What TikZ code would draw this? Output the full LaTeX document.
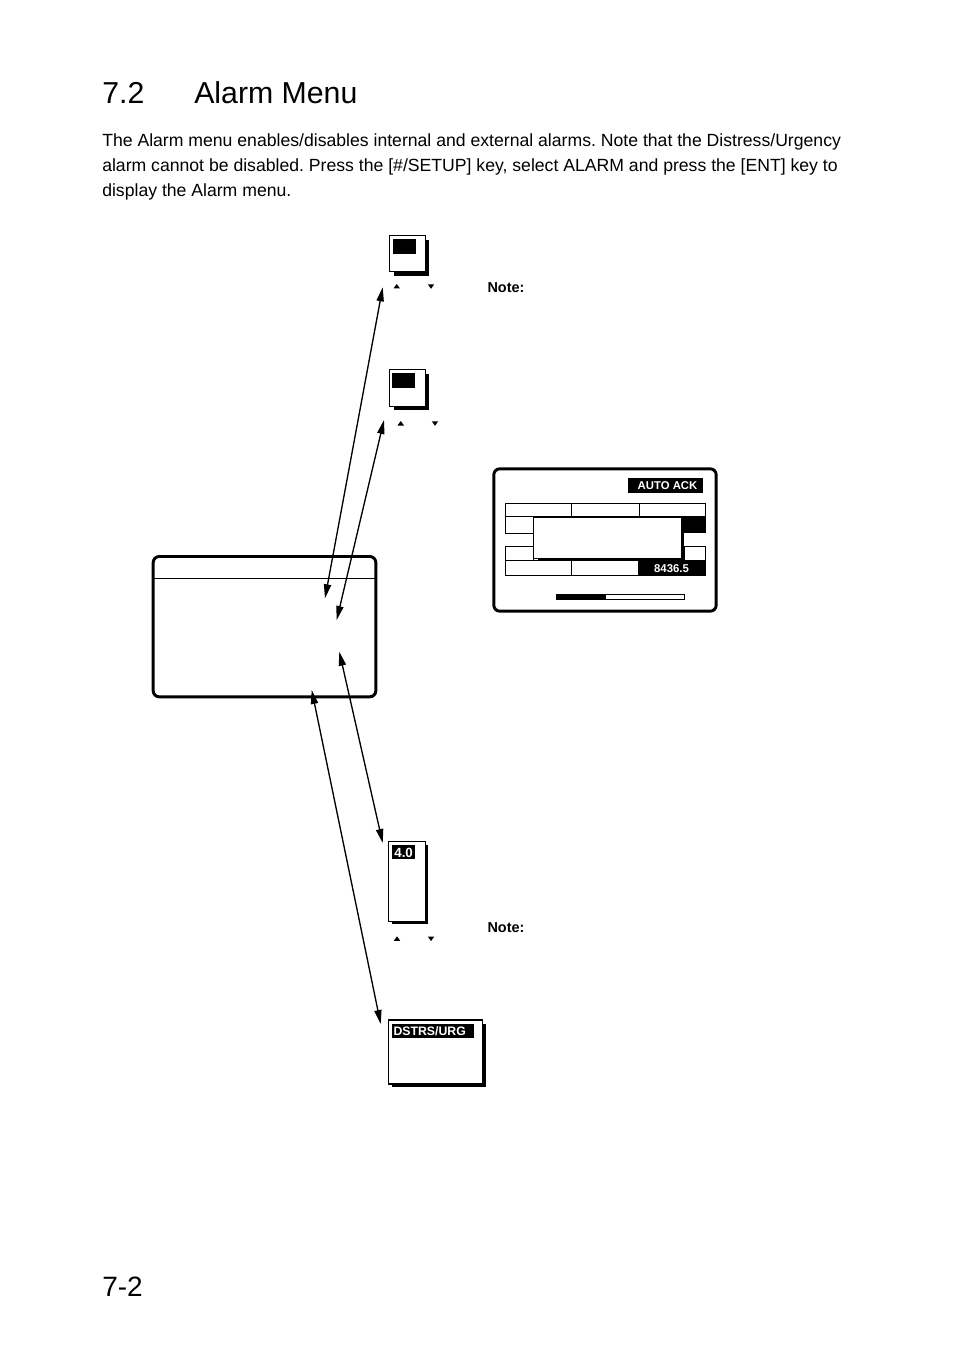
\documentclass[tikz,border=0pt]{standalone}
\usepackage{fontspec}
\setmainfont{Liberation Sans}
\usetikzlibrary{arrows.meta}
\begin{document}
\frenchspacing
\begin{tikzpicture}[x=0.75pt,y=-0.75pt,
  txt/.style={inner sep=0pt,anchor=base west},
  thin/.style={line width=0.75pt},
  shadowbox/.style={fill=white,draw=black,line width=0.8pt},
  screen/.style={draw=black,line width=2.2pt,rounded corners=4.5pt},
  blk/.style={fill=black},
  wlab/.style={inner sep=0pt,text=white,font=\bfseries\fontsize{8.5}{10}\selectfont,anchor=center},
  dblarrow/.style={{Triangle[length=10.5pt,width=5.4pt]}-{Triangle[length=10.5pt,width=5.4pt]},line width=1pt},
  tri/.style={fill=black}
]
\useasboundingbox (0,0) rectangle (954,1351);

% title
\node[txt,font=\fontsize{22.7}{26}\selectfont] (num) at (102,103.3) {7.2};
\node[txt,font=\fontsize{22.7}{26}\selectfont] (title) at (194,103.3) {Alarm Menu};

% paragraph
\node[txt,font=\fontsize{13.22}{18}\selectfont] (p1) at (102,146.5) {The Alarm menu enables/disables internal and external alarms. Note that the Distress/Urgency};
\node[txt,font=\fontsize{13.22}{18}\selectfont] (p2) at (102,171.5) {alarm cannot be disabled. Press the [\#/SETUP] key, select ALARM and press the [ENT] key to};
\node[txt,font=\fontsize{13.22}{18}\selectfont] (p3) at (102,196.5) {display the Alarm menu.};

% page number
\node[txt,font=\fontsize{21}{24}\selectfont] (page) at (102,1296) {7-2};

% ---- box 1
\fill (394,240) rectangle (429,276);
\draw[shadowbox] (389.3,235.7) rectangle (425.7,271.7);
\fill (392.7,239.5) rectangle (415.5,254);
\node[inner sep=0pt,minimum width=36pt,minimum height=36pt] (b1) at (407.5,253.7) {};
\fill[tri] (393.5,288.5) -- (400,288.5) -- (396.7,284) -- cycle;
\fill[tri] (427.8,284.3) -- (434.2,284.3) -- (431,288.8) -- cycle;
\node[txt,font=\bfseries\fontsize{10.8}{12}\selectfont] (note1) at (487.3,292.3) {Note:};

% ---- box 2
\fill (394,374) rectangle (429,410);
\draw[shadowbox] (389.3,369.3) rectangle (425.3,406.3);
\fill (392.3,372.7) rectangle (415,388.3);
\node[inner sep=0pt,minimum width=36pt,minimum height=37pt] (b2) at (407.3,387.8) {};
\fill[tri] (397.5,425.5) -- (404,425.5) -- (400.7,421) -- cycle;
\fill[tri] (431.8,421.3) -- (438.2,421.3) -- (435,425.8) -- cycle;

% ---- screen
\draw[screen] (493.8,468.8) rectangle (716.2,611.2);
\node[inner sep=0pt,minimum width=56pt,minimum height=11pt] (scr) at (605,540) {};
\fill (628.3,478) rectangle (702.7,492.7);
\node[wlab] (autoack) at (667.5,485.6) {AUTO ACK};
% row1
\draw[thin] (505.7,503.3) rectangle (705.7,516.7);
\draw[thin] (571.7,503.3) -- (571.7,516.7);
\draw[thin] (639.3,503.3) -- (639.3,516.7);
% row2
\draw[thin] (505.7,516.7) rectangle (533.3,533.3);
\fill (681.7,517) rectangle (705.7,533.3);
% row3
\draw[thin] (505.7,546) rectangle (533.3,560);
\draw[thin] (684,546) rectangle (705.7,560);
% row4
\draw[thin] (505.7,560) rectangle (705.7,575.7);
\draw[thin] (571.7,560) -- (571.7,575.7);
\fill (637.7,560) rectangle (705.7,575.7);
\node[wlab] (freq) at (671.5,568.3) {8436.5};
% popup
\fill (538,521) rectangle (684,560.5);
\draw[fill=white,thin] (533.3,517.7) rectangle (681.7,558.3);
% progress
\draw[thin] (556.7,594.3) rectangle (684.3,599.3);
\fill (556.7,594.3) rectangle (606,599.3);

% ---- menu box
\draw[screen] (153.2,556.5) rectangle (375.8,696.8);
\draw[thin] (152.5,578.3) -- (376.5,578.3);
\node[inner sep=0pt,minimum width=168pt,minimum height=107pt] (menu) at (264.5,626.6) {};

% ---- box 4.0
\fill (392,845) rectangle (427.7,923.5);
\draw[shadowbox] (388.3,841.7) rectangle (425.3,921.3);
\fill (392.3,845) rectangle (415,859.3);
\node[inner sep=0pt,text=white,font=\bfseries\fontsize{10}{11}\selectfont] (v40) at (403.6,852.6) {4.0};
\fill[tri] (393.8,940.8) -- (400.2,940.8) -- (397,936.3) -- cycle;
\fill[tri] (427.8,936.6) -- (434.2,936.6) -- (431,941.1) -- cycle;
\node[txt,font=\bfseries\fontsize{10.8}{12}\selectfont] (note2) at (487.3,932.5) {Note:};

% ---- DSTRS box
\fill (392,1024) rectangle (486,1087);
\draw[shadowbox] (388.3,1020) rectangle (482.3,1084);
\fill (391.7,1024) rectangle (473.5,1038.3);
\node[inner sep=0pt,text=white,font=\bfseries\fontsize{9.2}{10}\selectfont,anchor=west] (dst) at (393.3,1031.2) {DSTRS/URG};

% ---- arrows
\coordinate (a1t) at (382.7,287.3);
\coordinate (a1b) at (325,598.3);
\coordinate (a2t) at (384,420);
\coordinate (a2b) at (336.7,620);
\coordinate (a3t) at (339.3,651.7);
\coordinate (a3b) at (382.7,843);
\coordinate (a4t) at (311.7,690);
\coordinate (a4b) at (380.7,1024);
\draw[dblarrow] (a1t) -- (a1b);
\draw[dblarrow] (a2t) -- (a2b);
\draw[dblarrow] (a3t) -- (a3b);
\draw[dblarrow] (a4t) -- (a4b);
\end{tikzpicture}
\end{document}
